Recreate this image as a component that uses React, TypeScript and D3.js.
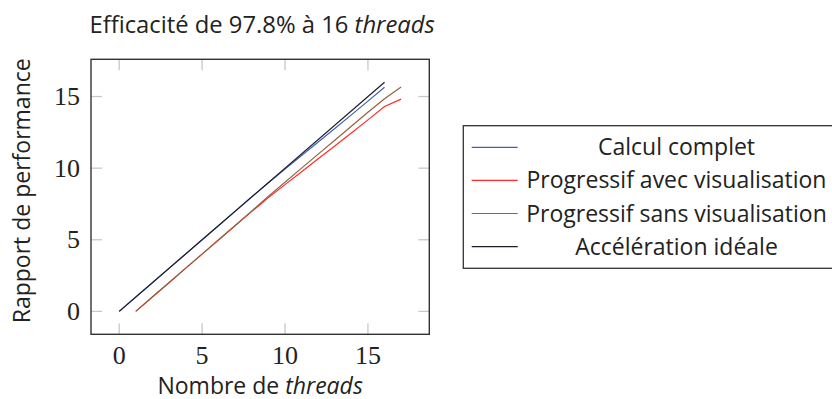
import React from "react";
import * as d3 from "d3";

const threadsIdeal = [0, 16];
const idealValues = [0, 16];
const threadsComplet = [0, 1, 2, 3, 4, 5, 6, 7, 8, 9, 10, 11, 12, 13, 14, 15, 16];
const completValues = [0, 1, 2, 3, 4, 5, 6, 7, 8, 8.98, 9.93, 10.88, 11.82, 12.77, 13.72, 14.68, 15.65];
const threadsProgressif = [1, 2, 3, 4, 5, 6, 7, 8, 9, 10, 11, 12, 13, 14, 15, 16, 17];
const avecVisuValues = [0, 1, 2, 3, 4, 5, 6, 6.98, 7.95, 8.85, 9.75, 10.65, 11.55, 12.45, 13.37, 14.3, 14.82];
const sansVisuValues = [0, 1, 2, 3, 4, 5, 6, 7.02, 8.05, 9.02, 10.0, 10.98, 11.95, 12.92, 13.9, 14.85, 15.66];
const xTicks = [0, 5, 10, 15];
const yTicks = [0, 5, 10, 15];
const legendLabels = [
  "Calcul complet",
  "Progressif avec visualisation",
  "Progressif sans visualisation",
  "Accélération idéale",
];

const SANS = "'Open Sans', Lato, sans-serif";
const SERIF = "'Liberation Serif', 'DejaVu Serif', serif";

export default function App() {
  const left = 91, right = 429.3, top = 59.3, bottom = 334.3;
  const x = d3.scaleLinear().domain([-1.7, 18.7]).range([left, right]);
  const y = d3.scaleLinear().domain([-1.6, 17.6]).range([bottom, top]);
  const line = d3.line<[number, number]>().x((d) => x(d[0])).y((d) => y(d[1]));
  const zip = (a: number[], b: number[]) => a.map((v, i) => [v, b[i]] as [number, number]);

  const series = [
    { label: legendLabels[0], color: "#3f62b5", data: zip(threadsComplet, completValues) },
    { label: legendLabels[1], color: "#ff2b2b", data: zip(threadsProgressif, avecVisuValues) },
    { label: legendLabels[2], color: "#8f6440", data: zip(threadsProgressif, sansVisuValues) },
    { label: legendLabels[3], color: "#1c1c2c", data: zip(threadsIdeal, idealValues) },
  ];
  const drawOrder = [0, 1, 2, 3];

  const legX = 463.3, legY = 125.7, legH = 142.6;
  const rowY = (i: number) => 147.3 + i * 33.1;

  return (
    <svg width={832} height={399} style={{ position: "absolute", left: 0, top: 0, background: "#fff" }}>
      {xTicks.map((t) => (
        <g key={"xt" + t} stroke="#c8c8c8" strokeWidth={1.3}>
          <line x1={x(t)} x2={x(t)} y1={bottom} y2={bottom - 11} />
          <line x1={x(t)} x2={x(t)} y1={top} y2={top + 11} />
        </g>
      ))}
      {yTicks.map((t) => (
        <g key={"yt" + t} stroke="#c8c8c8" strokeWidth={1.3}>
          <line x1={left} x2={left + 11} y1={y(t)} y2={y(t)} />
          <line x1={right} x2={right - 11} y1={y(t)} y2={y(t)} />
        </g>
      ))}
      {drawOrder.map((i) => (
        <path key={"s" + i} d={line(series[i].data) || ""} fill="none" stroke={series[i].color} strokeWidth={1.2} />
      ))}
      <rect x={left} y={top} width={right - left} height={bottom - top} fill="none" stroke="#333" strokeWidth={1.4} />
      {xTicks.map((t) => (
        <text key={"xl" + t} x={x(t)} y={363.5} textAnchor="middle" fontFamily={SERIF} fontSize={26} fill="#222">
          {t}
        </text>
      ))}
      {yTicks.map((t) => (
        <text key={"yl" + t} x={80} y={y(t) + 8.5} textAnchor="end" fontFamily={SERIF} fontSize={26} fill="#222">
          {t}
        </text>
      ))}
      <text x={(left + right) / 2} y={393.5} textAnchor="middle" fontFamily={SANS} fontSize={23} fill="#222">
        Nombre de <tspan fontStyle="italic">threads</tspan>
      </text>
      <text
        transform={`translate(30, ${(top + bottom) / 2 - 6}) rotate(-90)`}
        textAnchor="middle"
        fontFamily={SANS}
        fontSize={23}
        fill="#222"
      >
        Rapport de performance
      </text>
      <text x={(left + right) / 2 + 2} y={33.3} textAnchor="middle" fontFamily={SANS} fontSize={23.8} fill="#222">
        Efficacité de 97.8% à 16 <tspan fontStyle="italic">threads</tspan>
      </text>
      <rect x={legX} y={legY} width={400} height={legH} fill="#fff" stroke="#333" strokeWidth={1.3} />
      {series.map((s, i) => (
        <g key={"lg" + i}>
          <line x1={471.7} x2={517.7} y1={rowY(i)} y2={rowY(i)} stroke={s.color} strokeWidth={1.2} />
          <text x={676.5} y={rowY(i) + 8} textAnchor="middle" fontFamily={SANS} fontSize={23} fill="#222">
            {s.label}
          </text>
        </g>
      ))}
    </svg>
  );
}
